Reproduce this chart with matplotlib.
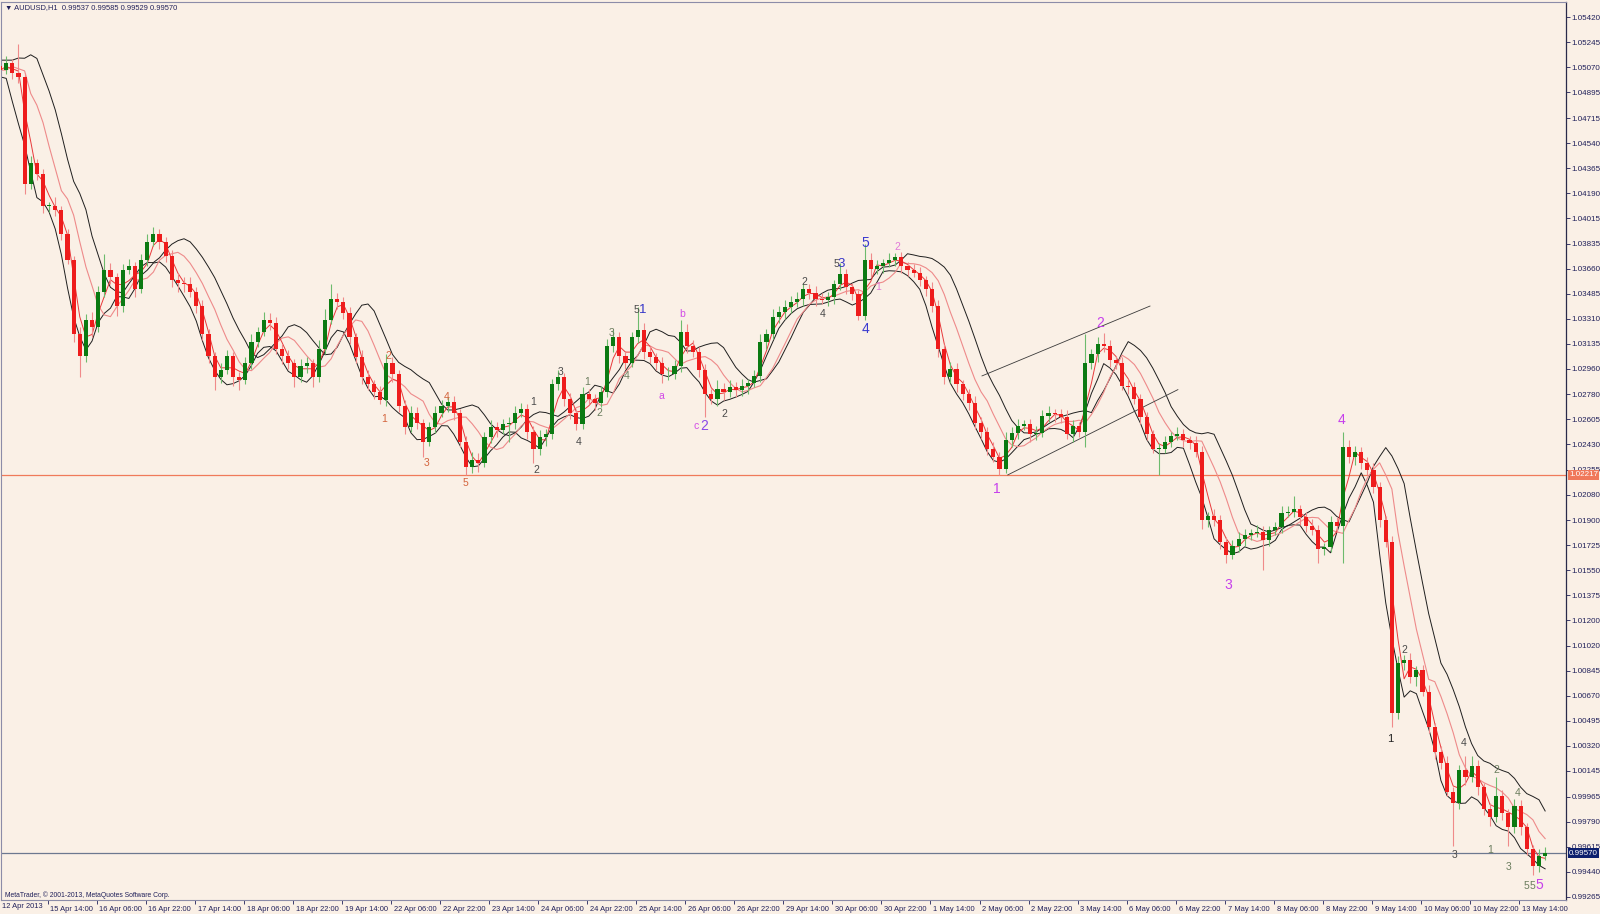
import numpy as np
import pandas as pd
import matplotlib
matplotlib.use("Agg")
import matplotlib.pyplot as plt
from matplotlib.transforms import blended_transform_factory, ScaledTranslation

plt.rcParams['font.family'] = ['Liberation Sans', 'DejaVu Sans']

first_open = 508
close_pips = [
    505, 510, 503, 500, 425, 440, 432, 410, 410, 407,
    390, 372, 320, 305, 330, 325, 350, 365, 360, 340,
    365, 368, 352, 372, 385, 390, 385, 375, 358, 356,
    355, 350, 340, 320, 305, 290, 295, 305, 290, 288,
    300, 315, 322, 330, 328, 310, 305, 300, 290, 298,
    300, 290, 310, 330, 345, 343, 335, 318, 304, 290,
    285, 280, 274, 300, 292, 270, 255, 265, 258, 245,
    255, 265, 270, 273, 265, 245, 227, 232, 230, 248,
    255, 253, 257, 258, 265, 268, 252, 240, 248, 250,
    285, 290, 275, 265, 257, 278, 275, 272, 280, 312,
    318, 305, 300, 318, 323, 308, 304, 300, 292, 292,
    298, 322, 312, 308, 295, 278, 275, 282, 280, 283,
    281, 284, 286, 291, 315, 320, 332, 336, 339, 343,
    345, 352, 349, 345, 344, 346, 355, 362, 353, 348,
    333, 372, 366, 368, 370, 372, 374, 368, 365, 363,
    358, 352, 340, 310, 290, 296, 285, 278, 272, 258,
    252, 240, 234, 226, 246, 251, 256, 257, 250, 251,
    263, 265, 264, 262, 250, 256, 252, 300, 306, 313,
    312, 302, 300, 284, 283, 275, 262, 250, 240, 240,
    245, 249, 250, 246, 244, 238, 190, 193, 190, 175,
    166, 172, 177, 180, 181, 182, 176, 183, 185, 195,
    196, 198, 192, 186, 183, 170, 171, 189, 186, 241,
    234, 238, 230, 225, 213, 190, 175, 55, 90, 92,
    80, 85, 70, 45, 28, 20, 0, -8, 15, 10,
    18, 3, -12, -18, -3, -15, -25, -10, -25, -40,
    -52, -45, -43,
]
# wick lengths (pips) above / below the body
wick_up = [
    4, 5, 3, 20, 3, 5, 3, 4, 3, 6,
    3, 4, 3, 5, 4, 6, 4, 11, 5, 3,
    4, 5, 3, 4, 5, 5, 4, 3, 4, 5,
    4, 5, 3, 4, 4, 3, 5, 4, 3, 4,
    4, 5, 3, 6, 5, 4, 3, 4, 3, 5,
    4, 3, 6, 8, 10, 4, 3, 4, 3, 5,
    5, 3, 4, 6, 4, 3, 4, 5, 4, 3,
    4, 5, 4, 3, 4, 3, 4, 6, 5, 4,
    5, 4, 4, 4, 5, 4, 3, 4, 5, 4,
    4, 5, 3, 4, 3, 5, 4, 3, 4, 5,
    5, 4, 3, 4, 16, 5, 4, 3, 4, 5,
    4, 8, 5, 4, 3, 4, 4, 6, 4, 5,
    4, 5, 3, 4, 5, 4, 6, 4, 5, 4,
    5, 4, 3, 5, 4, 4, 3, 8, 4, 3,
    3, 11, 5, 4, 3, 5, 3, 4, 3, 4,
    4, 3, 5, 4, 3, 5, 4, 3, 4, 5,
    4, 3, 5, 4, 6, 4, 5, 3, 4, 5,
    4, 5, 3, 4, 5, 4, 3, 20, 4, 5,
    8, 4, 3, 4, 5, 4, 3, 4, 3, 4,
    4, 3, 5, 4, 3, 5, 4, 3, 5, 4,
    3, 4, 5, 4, 3, 5, 4, 3, 4, 5,
    4, 9, 3, 4, 5, 4, 3, 4, 3, 11,
    5, 4, 3, 4, 5, 4, 3, 4, 5, 4,
    5, 3, 4, 5, 3, 4, 5, 3, 4, 10,
    7, 4, 3, 4, 13, 4, 3, 5, 4, 3,
    3, 5, 4,
]
wick_dn = [
    5, 3, 4, 4, 7, 3, 4, 5, 4, 4,
    4, 3, 5, 15, 4, 7, 3, 4, 5, 7,
    4, 3, 6, 3, 4, 3, 5, 4, 5, 6,
    5, 4, 5, 4, 5, 9, 4, 3, 6, 7,
    3, 4, 4, 3, 5, 4, 6, 4, 7, 3,
    5, 7, 3, 4, 3, 5, 4, 5, 4, 5,
    4, 5, 3, 4, 5, 4, 5, 3, 4, 11,
    3, 4, 3, 4, 5, 4, 5, 4, 6, 3,
    4, 5, 3, 12, 4, 3, 5, 10, 4, 6,
    3, 4, 5, 4, 4, 3, 4, 5, 3, 4,
    4, 5, 4, 3, 4, 5, 4, 5, 6, 4,
    3, 4, 5, 4, 5, 16, 4, 5, 6, 4,
    5, 4, 6, 3, 4, 5, 3, 4, 5, 4,
    4, 5, 4, 5, 3, 4, 5, 4, 5, 4,
    3, 3, 6, 4, 5, 3, 4, 5, 4, 3,
    4, 5, 4, 6, 5, 4, 5, 4, 5, 4,
    5, 4, 3, 4, 3, 5, 4, 3, 5, 4,
    3, 4, 5, 4, 3, 5, 4, 11, 4, 5,
    4, 5, 4, 3, 5, 4, 5, 4, 3, 18,
    3, 4, 3, 5, 4, 4, 6, 5, 4, 5,
    6, 3, 4, 5, 4, 3, 21, 4, 3, 4,
    3, 4, 5, 4, 3, 10, 4, 3, 4, 26,
    4, 5, 4, 3, 4, 5, 4, 10, 4, 5,
    4, 6, 3, 4, 5, 4, 3, 30, 4, 5,
    3, 5, 4, 6, 3, 5, 13, 4, 5, 4,
    6, 4, 3,
]

y_ticks = [1.05420, 1.05245, 1.05070, 1.04895, 1.04715, 1.04540, 1.04365, 1.04190,
           1.04015, 1.03835, 1.03660, 1.03485, 1.03310, 1.03135, 1.02960, 1.02780,
           1.02605, 1.02430, 1.02255, 1.02080, 1.01900, 1.01725, 1.01550, 1.01375,
           1.01200, 1.01020, 1.00845, 1.00670, 1.00495, 1.00320, 1.00145, 0.99965,
           0.99790, 0.99615, 0.99440, 0.99265]
x_labels = ['15 Apr 14:00', '16 Apr 06:00', '16 Apr 22:00', '17 Apr 14:00', '18 Apr 06:00',
            '18 Apr 22:00', '19 Apr 14:00', '22 Apr 06:00', '22 Apr 22:00', '23 Apr 14:00',
            '24 Apr 06:00', '24 Apr 22:00', '25 Apr 14:00', '26 Apr 06:00', '26 Apr 22:00',
            '29 Apr 14:00', '30 Apr 06:00', '30 Apr 22:00', '1 May 14:00', '2 May 06:00',
            '2 May 22:00', '3 May 14:00', '6 May 06:00', '6 May 22:00', '7 May 14:00',
            '8 May 06:00', '8 May 22:00', '9 May 14:00', '10 May 06:00', '10 May 22:00',
            '13 May 14:00']
first_label = '12 Apr 2013'
level_red = 1.02217
level_bid = 0.99570
header = '\u25bc AUDUSD,H1  0.99537 0.99585 0.99529 0.99570'

# hand-drawn channel (hour index, price)
channel_upper = [(320.8, 1.02910), (375.6, 1.03399)]
channel_lower = [(329.2, 1.02217), (384.7, 1.02814)]

# wave labels: hour index, pips, text, kind
wave_h = [127.3, 125.7, 139.5, 146.3, 152.3, 174.5, 175.3, 183.3, 189.3, 192.1,
          196.1, 200.1, 204.9, 208.1, 210.1, 216.1, 222.9, 227.6, 230.2, 236.9,
          262.7, 268.9, 273.4, 275.0, 282.7, 282.7, 286.9, 293.3, 325.5, 359.5,
          401.1, 438.1, 454.1, 458.7, 474.9, 477.9, 486.7, 488.7, 492.5, 495.5,
          498.5, 500.5, 502.7]
wave_p = [305, 261, 230, 276, 216, 273, 225, 294, 245, 287,
          265, 321, 291, 337, 337, 277, 334, 256, 256, 264,
          357, 334, 369, 369, 324, 384, 353, 381, 212, 328,
          145, 260, 37, 99, -44, 34, -41, 15, -53, -1,
          -66, -66, -65]
wave_txt = ['2', '1', '3', '4', '5', '1', '2', '3', '4', '1',
            '2', '3', '4', '5', '1', 'a', 'b', 'c', '2', '2',
            '2', '4', '5', '3', '4', '5', '1', '2', '1', '2',
            '3', '4', '1', '2', '3', '4', '1', '2', '3', '4',
            '5', '5', '5']
wave_kind = ['orange'] * 5 + ['gray'] * 4 + ['olive'] * 4 + ['gray', 'blue', 'magenta', 'magenta',
             'magenta', 'violet', 'gray', 'gray', 'gray', 'gray', 'blue', 'blueL', 'blueL', 'pink',
             'pink', 'magentaL', 'magentaL', 'magentaL', 'magentaL', 'black', 'gray', 'gray', 'gray',
             'olive', 'olive', 'olive', 'olive', 'olive', 'olive', 'magentaL']

wave_style = {
    'orange': ('#d4643c', 7.5), 'gray': ('#4a4a4a', 7.5), 'olive': ('#6b7d5e', 7.5),
    'blue': ('#3434c8', 9.5), 'blueL': ('#3a3ad0', 10), 'magenta': ('#d24ae6', 7.5),
    'violet': ('#8a48e8', 10), 'pink': ('#e07ad8', 7.5), 'magentaL': ('#c63fec', 10),
    'black': ('#222222', 8),
}

BG = '#faf0e6'
AXC = '#20205a'

# ---- build OHLC ----
cl = np.array(close_pips, dtype=float)
op = np.r_[first_open, cl[:-1]]
hi = np.maximum(op, cl) + np.array(wick_up)
lo = np.minimum(op, cl) - np.array(wick_dn)
to_px = lambda a: 1 + np.asarray(a) / 1e4
O, H, L, C = to_px(op), to_px(hi), to_px(lo), to_px(cl)
xb = 2 * np.arange(len(cl)) + 0.5

fig = plt.figure(figsize=(16, 9.14), dpi=100, facecolor=BG)
ax = fig.add_axes([1 / 1600, 14 / 914, 1565 / 1600, 898 / 914], facecolor=BG)

# indicator lines
s_hi, s_lo, s_cl = pd.Series(H), pd.Series(L), pd.Series(C)
black_up = s_hi.rolling(6, min_periods=1).mean().shift(2).bfill()
black_lo = s_lo.rolling(5, center=True, min_periods=1).mean()
red_fast = s_cl.rolling(3, min_periods=1).mean()
red_slow = s_cl.rolling(6, min_periods=1).mean().shift(1).bfill()
ax.plot(xb, black_up, color='#1e1e1e', lw=0.7, zorder=2)
ax.plot(xb, black_lo, color='#1e1e1e', lw=0.7, zorder=2)
ax.plot(xb, red_slow, color='#ee8a8a', lw=0.8, zorder=2)
ax.plot(xb, red_fast, color='#e8383a', lw=0.7, zorder=2)

# candles
up = C >= O
ax.vlines(xb[up], L[up], H[up], color='#6dbb6d', lw=0.8, zorder=3)
ax.vlines(xb[~up], L[~up], H[~up], color='#f08a8a', lw=0.8, zorder=3)
body = np.maximum(np.abs(C - O), 0.00004)
ax.bar(xb[up], body[up], bottom=np.minimum(O, C)[up], width=1.35, color='#0b7a12', zorder=4)
ax.bar(xb[~up], body[~up], bottom=np.minimum(O, C)[~up], width=1.35, color='#ee1c1c', zorder=4)

# levels and channel
ax.axhline(level_red, color='#f07a5a', lw=0.9, zorder=1)
ax.axhline(level_bid, color='#6c7890', lw=0.9, zorder=1)
for seg in (channel_upper, channel_lower):
    ax.plot([p[0] for p in seg], [p[1] for p in seg], color='#3a3a3a', lw=0.6, zorder=2)

# wave labels
for h, p, t, k in zip(wave_h, wave_p, wave_txt, wave_kind):
    col, sz = wave_style[k]
    ax.text(h, 1 + p / 1e4, t, color=col, fontsize=sz, ha='center', va='center', zorder=6)

ax.set_xlim(0.8, 511.3)
ax.set_ylim(0.99242, 1.05527)

# axes styling
for side in ('top', 'bottom', 'left'):
    ax.spines[side].set_color('#8c8ca8')
    ax.spines[side].set_linewidth(0.8)
ax.spines['right'].set_color('#2a2a4a')
ax.spines['right'].set_linewidth(0.9)

ax.yaxis.tick_right()
ax.set_yticks(y_ticks)
ax.set_yticklabels([f'{v:.5f}' for v in y_ticks])
ax.tick_params(axis='y', direction='out', length=3, width=0.6, color=AXC,
               labelsize=5.8, labelcolor=AXC, pad=1.2)

ax.set_xticks([16 * (i + 1) for i in range(len(x_labels))])
ax.set_xticklabels(x_labels)
ax.tick_params(axis='x', direction='out', length=3, width=0.6, color=AXC,
               labelsize=5.4, labelcolor=AXC, pad=1.5)
shift = ScaledTranslation(2 / 72, 0, fig.dpi_scale_trans)
for lbl in ax.get_xticklabels():
    lbl.set_horizontalalignment('left')
    lbl.set_transform(lbl.get_transform() + shift)

fig.text(2 / 1600, 1 - 906 / 914, first_label, fontsize=5.4, color=AXC, ha='left', va='center')

# price boxes on the scale
trans = blended_transform_factory(ax.transAxes, ax.transData)
ax.text(1.002, level_red, f'{level_red:.5f}', transform=trans, fontsize=5.8, color='white',
        ha='left', va='center', zorder=7, clip_on=False,
        bbox=dict(boxstyle='square,pad=0.15', fc='#f0785a', ec='none'))
ax.text(1.002, level_bid, f'{level_bid:.5f}', transform=trans, fontsize=5.8, color='white',
        ha='left', va='center', zorder=7, clip_on=False,
        bbox=dict(boxstyle='square,pad=0.15', fc='#0c1f6e', ec='none'))

# header and footer
fig.text(5 / 1600, 1 - 8 / 914, header, fontsize=5.4, color=AXC, ha='left', va='center')
fig.text(5 / 1600, 1 - 895 / 914, 'MetaTrader, \u00a9 2001-2013, MetaQuotes Software Corp.',
         fontsize=4.9, color=AXC, ha='left', va='center')

plt.savefig('out.png', dpi=100, facecolor=BG)
plt.close()
